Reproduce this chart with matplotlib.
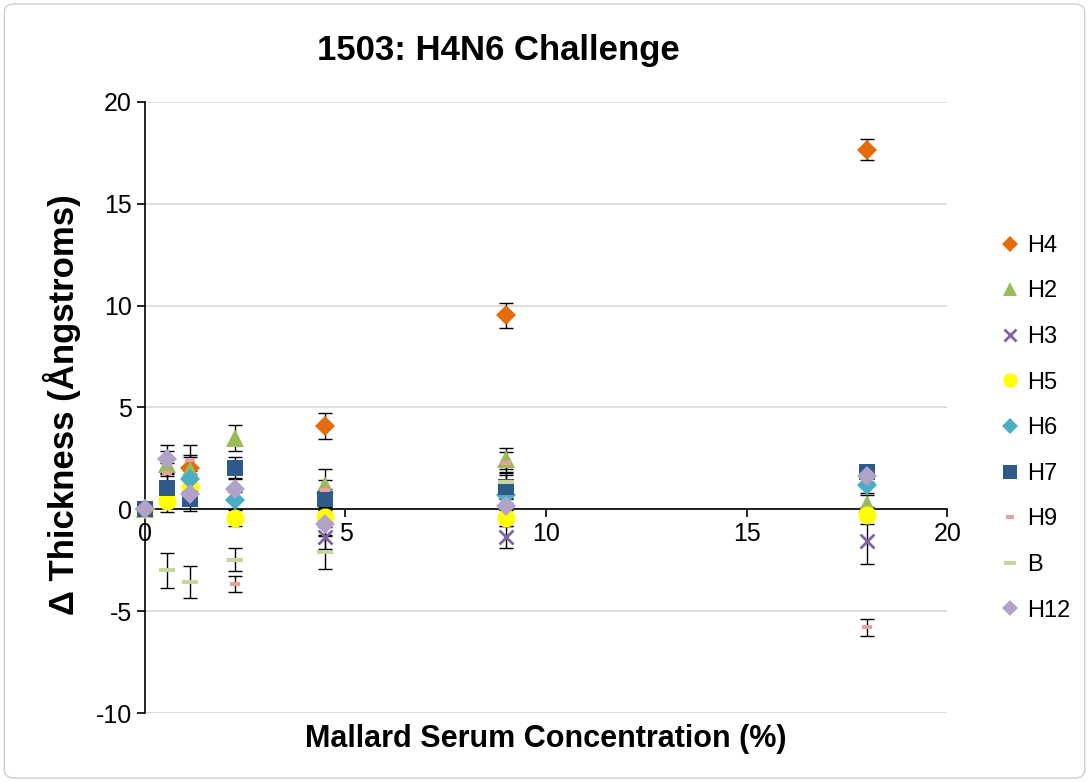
import numpy as np
import matplotlib
matplotlib.use("Agg")
import matplotlib.pyplot as plt
from matplotlib.patches import FancyBboxPatch

plt.rcParams['font.family'] = ['Liberation Sans', 'DejaVu Sans']
plt.rcParams['axes.unicode_minus'] = False

nan = np.nan
conc = [0, 0.5625, 1.125, 2.25, 4.5, 9, 18]

names = ["H4", "H2", "H3", "H5", "H6", "H7", "H9", "B", "H12"]
h4 = [0, nan, 2.05, nan, 4.1, 9.52, 17.65]
h2 = [0, 2.24, 1.95, 3.5, 1.18, 2.49, 0.28]
h3 = [0, nan, nan, nan, -1.36, -1.36, -1.55]
h5 = [0, 0.39, 1.1, -0.41, -0.38, -0.41, -0.3]
h6 = [0, nan, 1.5, 0.44, nan, 0.69, 1.18]
h7 = [0, 1.06, 0.52, 2.05, 0.49, 1.1, 1.85]
h9 = [0, 1.78, 2.44, -3.67, 0.93, 2.29, -5.78]
b = [0, -3.0, -3.57, -2.47, -2.11, 1.34, nan]
h12 = [0, 2.45, 0.77, 1.01, -0.74, 0.15, 1.62]

h4_err = [0, 0.5, 0.5, 0.5, 0.63, 0.62, 0.53]
h2_err = [0, 0.6, 0.7, 0.62, 0.8, 0.5, 0.4]
h3_err = [0, nan, nan, nan, 0.6, 0.55, 1.12]
h5_err = [0, 0.5, 0.5, 0.4, 0.5, 0.4, 0.4]
h6_err = [0, 0.4, 0.4, 0.4, 0.4, 0.4, 0.4]
h7_err = [0, 0.7, 0.6, 0.5, 0.5, 0.6, 0.3]
h9_err = [0, 0.5, 0.7, 0.4, 0.5, 0.5, 0.41]
b_err = [0, 0.85, 0.8, 0.55, 0.8, 0.5, nan]
h12_err = [0, 0.7, 0.5, 0.5, 0.5, 0.4, 0.3]

values = [h4, h2, h3, h5, h6, h7, h9, b, h12]
errors = [h4_err, h2_err, h3_err, h5_err, h6_err, h7_err, h9_err, b_err, h12_err]

dash_small = [(-1, -0.45), (1, -0.45), (1, 0.45), (-1, 0.45)]
dash_long = [(-1, -0.3), (1, -0.3), (1, 0.3), (-1, 0.3)]
styles = [
    dict(marker='D', color='#E46C0A', ms=10.5),
    dict(marker='^', color='#9BBB59', ms=13),
    dict(marker='x', color='#8064A2', ms=10, mew=2),
    dict(marker='o', color='#FFFF00', ms=13),
    dict(marker='D', color='#4BACC6', ms=10.5),
    dict(marker='s', color='#2F5A8C', ms=12),
    dict(marker=dash_small, color='#E6A0A0', ms=6.5),
    dict(marker=dash_long, color='#C3D69B', ms=11.5),
    dict(marker='D', color='#B3A2C7', ms=10.5),
]

fig = plt.figure(figsize=(10.89, 7.82), dpi=100)
fig.patches.append(FancyBboxPatch((0.004, 0.005), 0.992, 0.99,
                                  boxstyle="round,pad=0,rounding_size=0.01",
                                  transform=fig.transFigure, fill=False,
                                  edgecolor='#d0d0d0', lw=1))
ax = fig.add_axes([0.133, 0.088, 0.737, 0.782])

for yv, ev in zip(values, errors):
    ax.errorbar(conc, yv, yerr=ev, fmt='none', ecolor='black', elinewidth=1,
                capsize=5, capthick=1, zorder=2)

for name, yv, st in zip(names, values, styles):
    ax.plot(conc, yv, linestyle='none', marker=st['marker'], color=st['color'],
            markersize=st['ms'], markeredgewidth=st.get('mew', 0),
            label=name, zorder=3, clip_on=False)

ax.set_xlim(0, 20)
ax.set_ylim(-10, 20)
ax.set_xticks([0, 5, 10, 15, 20])
ax.set_yticks([-10, -5, 0, 5, 10, 15, 20])
ax.yaxis.grid(True, color='#d9d9d9', lw=1.2)
ax.set_axisbelow(True)
ax.spines['top'].set_visible(False)
ax.spines['right'].set_visible(False)
ax.spines['bottom'].set_position(('data', 0))
ax.spines['bottom'].set_linewidth(1.2)
ax.spines['left'].set_linewidth(1.2)
ax.tick_params(axis='both', labelsize=18, direction='out', length=6, width=1.2)
ax.tick_params(axis='x', pad=3)

ax.set_title("1503: H4N6 Challenge", fontsize=25, fontweight='bold', pad=30, x=0.44)
ax.set_ylabel("Δ Thickness (Ångstroms)", fontsize=25, fontweight='bold')
ax.yaxis.set_label_coords(-0.08, 0.505)
ax.set_xlabel("Mallard Serum Concentration (%)", fontsize=22, fontweight='bold')
ax.xaxis.set_label_coords(0.5, -0.018)

leg = ax.legend(loc='center left', bbox_to_anchor=(1.049, 0.466), frameon=False,
                fontsize=17, labelspacing=1.0, handletextpad=0.1,
                handlelength=1.2, borderaxespad=0, markerscale=0.8)

fig.savefig("out.png", dpi=100)
